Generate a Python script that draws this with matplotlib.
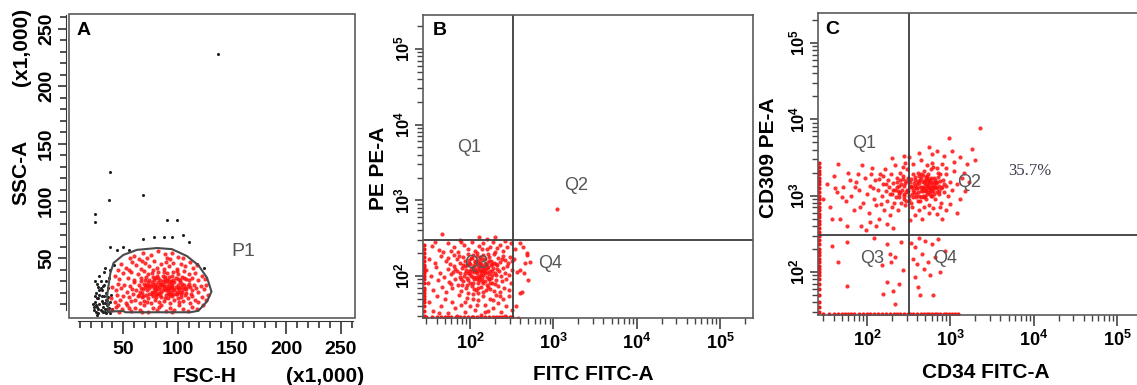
import numpy as np
import matplotlib.pyplot as plt
from matplotlib.patches import Polygon, Rectangle
from matplotlib.ticker import FixedLocator, LogLocator, NullFormatter

plt.rcParams['font.family'] = ['Liberation Sans', 'DejaVu Sans']
plt.rcParams['mathtext.fontset'] = 'custom'
plt.rcParams['mathtext.rm'] = 'Liberation Sans'
plt.rcParams['mathtext.bf'] = 'Liberation Sans:bold'

# ---------------- data ----------------
# panel A: FSC-H vs SSC-A (x1,000)
a_red = [(60,52),(68,55),(75,53),(82,56),(88,54),(95,55),(100,51),(72,50),(64,49),(90,50),(105,50),(56,50),
         (48,45),(52,42),(58,47),(62,44),(66,41),(70,46),(74,43),(78,48),(81,42),(85,45),(89,47),(92,43),(96,46),
         (99,41),(103,45),(107,43),(111,47),(114,42),(118,44),(55,40),(45,40),(87,41),(77,40),(67,48),(93,49),
         (42,35),(46,32),(50,37),(54,33),(57,38),(60,31),(63,36),(66,33),(69,39),(71,34),(74,31),(76,37),(79,33),
         (82,38),(84,31),(86,35),(88,32),(90,37),(92,34),(94,30),(96,38),(98,33),(100,36),(102,31),(104,34),
         (106,39),(108,32),(110,36),(113,33),(116,37),(119,31),(122,35),(125,32),(73,36),(81,35),(91,31),(99,39),
         (87,38),(77,34),(95,35),
         (40,25),(43,22),(45,28),(48,24),(51,27),(53,21),(56,26),(58,23),(60,29),(62,22),(64,27),(66,24),(67,20),
         (69,28),(70,25),(72,22),(73,29),(75,26),(76,21),(78,24),(79,28),(80,22),(81,26),(82,29),(83,23),(84,25),
         (85,21),(86,27),(87,24),(88,29),(89,22),(90,26),(91,20),(92,28),(93,24),(94,21),(95,27),(96,23),(97,29),
         (98,25),(99,21),(100,27),(101,23),(102,29),(103,25),(104,21),(106,27),(107,24),(108,20),(110,28),(111,25),
         (113,22),(115,27),(117,24),(119,21),(121,26),(124,23),(126,27),(74,24),(77,27),(83,20),(87,26),(91,24),
         (94,29),(97,22),(71,27),(65,21),(105,23),(109,26),(80,25),(85,28),(90,23),(95,25),(100,24),(78,21),
         (66,30),(68,23),(70,31),(72,26),(74,19),(76,29),(78,31),(80,19),(82,33),(84,28),(86,22),(88,34),(90,30),
         (92,22),(94,26),(96,31),(98,19),(100,32),(102,21),(104,28),(106,33),(108,23),(110,31),(112,19),(68,17),
         (74,27),(86,30),(93,18),(103,19),(79,23),
         (39,15),(42,12),(44,18),(47,14),(50,17),(52,11),(55,16),(57,13),(59,19),(61,14),(63,17),(65,11),(67,16),
         (69,13),(71,18),(73,15),(75,11),(77,17),(79,14),(81,19),(83,12),(85,16),(87,13),(89,18),(91,15),(93,11),
         (95,17),(97,14),(99,19),(101,12),(103,16),(105,13),(107,18),(109,15),(111,11),(113,17),(116,14),(119,12),
         (122,16),(126,14),(128,18),(76,19),(84,18),(92,19),(100,15),(80,16),(88,15),(96,19),(72,12),(64,18),
         (40,5),(43,8),(46,3),(49,6),(53,9),(57,4),(61,7),(65,5),(69,9),(73,3),(77,7),(81,5),(85,9),(89,4),(93,7),
         (97,5),(101,9),(105,6),(109,4),(113,8),(118,6),(123,9),(45,9),(55,7),(67,3),(83,8),(95,3)]
a_black = [(23,5),(24,12),(25,3),(25,20),(26,8),(26,15),(27,25),(27,2),(28,10),(28,18),(29,5),(29,30),(30,13),
           (30,22),(31,3),(31,8),(32,17),(32,27),(33,6),(33,11),(34,2),(34,20),(35,9),(35,14),(36,4),(36,24),
           (37,7),(37,33),(38,12),(38,2),(39,18),(40,6),(24,30),(28,35),(32,38),(22,10),(26,28),(30,4),(34,30),
           (36,16),(38,40),(41,44),(33,42),(29,24),(27,15),(31,11),(35,6),(25,9),(24,17),(27,6),(30,17),(33,3),
           (36,10),(28,22),(31,26),(34,14),(23,8),(26,1),
           (137,228),(38,125),(68,105),(37,101),(24,89),(24,82),(90,83),(99,83),(68,67),(78,69),(87,69),(95,69),
           (105,70),(110,64),(38,60),(44,57),(50,60),(55,57),(124,42),(118,45)]
p1_gate = [(36.5,3.7),(35,17),(38,37),(41,46),(50,53),(62.5,57.4),(81,59),(94.7,58),(108.4,52),(119,44),
           (127,33),(131,21),(127,12.5),(119,4.3),(111.5,3),(52,3),(50,4)]

# panel B: FITC FITC-A vs PE PE-A
b_pts = [(46,360),(76,300),(130,330),(159,310),(200,330),
         (35,250),(42,220),(55,270),(65,240),(72,210),(85,260),(95,230),(105,280),(115,215),(130,250),(145,270),
         (160,225),(175,245),(190,280),(210,235),(230,260),(250,215),(280,245),(310,270),(48,205),(78,285),
         (120,200),(200,205),(265,290),(140,230),(60,215),(38,280),
         (32,170),(38,150),(45,185),(52,160),(58,145),(64,190),(70,170),(76,150),(82,180),(88,160),(94,195),
         (100,145),(107,175),(114,155),(121,185),(128,165),(135,145),(143,190),(152,170),(160,150),(170,180),
         (180,160),(192,195),(205,145),(218,175),(232,155),(248,185),(265,165),(285,150),(305,180),(320,160),
         (110,190),(125,150),(140,170),(165,195),(98,165),(73,185),(55,175),(185,142),(240,170),
         (30,120),(34,100),(39,130),(44,110),(49,97),(54,125),(59,105),(65,135),(70,115),(75,98),(80,128),
         (86,108),(91,138),(96,118),(102,100),(108,130),(113,112),(119,96),(125,135),(131,120),(137,104),
         (144,128),(151,110),(158,98),(166,133),(174,117),(182,102),(191,126),(200,108),(212,138),(224,115),
         (236,100),(250,128),(264,110),(280,135),(296,104),(315,120),(105,115),(120,108),(130,100),(140,118),
         (150,125),(160,112),(115,125),(135,112),(90,120),(100,105),(170,105),(62,112),(210,122),(85,100),
         (155,138),(118,118),(128,128),(145,102),(112,140),(138,135),(95,110),
         (75,110),(82,140),(92,95),(98,150),(104,125),(110,98),(116,160),(122,115),(127,88),(133,150),(139,95),
         (146,115),(152,145),(162,128),(170,90),(178,140),(186,115),(196,150),(88,135),(78,92),(102,172),
         (132,178),(168,158),(144,82),(112,68),(126,60),(92,75),(180,95),(208,102),(66,125),
         (31,80),(36,65),(41,88),(46,72),(51,62),(56,84),(61,70),(67,92),(72,76),(78,64),(83,86),(89,70),
         (95,60),(100,82),(106,74),(112,90),(118,66),(124,80),(130,93),(137,72),(144,62),(151,86),(159,76),
         (167,91),(176,68),(185,82),(195,64),(206,88),(218,74),(230,62),(243,85),(257,70),(272,92),(290,66),
         (310,80),(110,80),(125,70),(140,85),(155,65),(175,80),(95,88),(80,75),(200,78),(120,92),(165,72),(60,78),
         (32,45),(36,35),(40,55),(45,40),(50,50),(55,32),(61,46),(67,38),(73,56),(79,42),(86,33),(93,52),
         (100,40),(108,58),(116,36),(125,48),(134,31),(143,54),(153,42),(164,35),(176,50),(189,38),(203,57),
         (218,44),(234,33),(252,50),(270,40),(292,55),(315,36),(42,32),(88,46),(120,42),(150,33),(190,48),
         (230,55),(70,30),(110,50),(260,30),
         (400,270),(480,190),(520,155),(370,114),(450,110),(420,62),(437,244),(480,200),(460,147),(500,88),
         (400,59),(400,120),(350,230),(360,40),(340,170),(380,28),(1100,770)]
# events piled on the axis floor
b_left_y = [30,35,40,45,50,55,60,65,70,80,90,100,110,120,130,140,160,180,200,230,260]
b_bottom_x = [30,35,40,45,50,55,60,68,75,85,95,105,110,120,135,150,170,190,205,220,240,270,300,320]

# panel C: CD34 FITC-A vs CD309 PE-A
c_pts = [(260,1400),(280,900),(300,1200),(310,1700),(320,1000),(330,1500),(340,800),(350,1300),(360,1900),
         (370,1100),(380,1600),(390,950),(400,1250),(410,2000),(420,1450),(430,850),(440,1150),(450,1700),
         (460,1300),(470,1000),(480,1550),(490,2100),(500,1200),(510,900),(520,1400),(530,1800),(540,1100),
         (550,1300),(560,750),(570,1600),(580,1000),(590,2200),(600,1350),(620,1150),(640,1700),(660,900),
         (680,1450),(700,1250),(720,2000),(740,1050),(760,1550),(780,800),(800,1300),(250,1100),(270,1650),
         (290,750),(305,2200),(325,1300),(345,1050),(365,1450),(385,1250),(405,850),(425,1800),(445,950),
         (465,1500),(485,1250),(505,1650),(525,1050),(545,1900),(565,1200),(585,1450),(605,1000),(625,2400),
         (645,1250),(665,1600),(690,1100),(710,1750),(730,1350),(750,700),(820,1600),(850,1100),(880,1900),
         (900,1350),(950,1000),(1000,1500),(1050,1200),(1100,2100),(1200,1400),(1300,900),(1400,1700),
         (1500,1150),(230,1300),(240,950),(270,2400),(290,2700),(360,2600),(440,2900),(520,2500),(600,2700),
         (700,2300),(800,2600),(900,2300),(1100,2800),(350,700),(420,650),(480,720),(550,600),(620,680),
         (700,580),(800,500),(900,650),(380,560),(460,500),(330,480),(1200,600),(1000,780),
         (315,1150),(335,1350),(355,950),(375,1750),(395,1400),(415,1100),(435,1600),(455,1250),(475,1850),
         (495,1450),(515,1150),(535,1350),(555,1650),(575,1250),(595,1150),(615,1500),(635,1350),(500,1000),
         (275,1050),(295,1550),(318,880),(342,1650),(362,1200),(388,1050),(408,1550),(428,1300),(448,1900),
         (468,1150),(492,1350),(512,1750),(532,1250),(552,1450),(572,1050),(592,1700),(612,1250),(632,1050),
         (652,1450),(675,1300),(700,1500),(725,1150),(750,1900),(780,1250),(830,1400),(480,950),(420,1000),
         (560,1550),(380,1350),(520,1600),
         (30,900),(33,1400),(36,700),(40,1800),(44,1100),(48,500),(52,1300),(56,850),(60,2000),(65,1000),
         (70,650),(75,1500),(80,1200),(85,400),(90,800),(95,1700),(100,1050),(105,600),(110,1350),(115,2300),
         (120,900),(125,1600),(130,750),(135,1200),(140,500),(145,1900),(150,1000),(155,1400),(160,650),
         (165,2200),(170,1150),(175,850),(180,1600),(185,1300),(190,550),(195,1900),(200,1050),(205,1450),
         (210,800),(215,2500),(220,1200),(225,950),(230,1700),(235,650),(240,1350),(245,1050),(250,2000),
         (255,800),(265,1200),(275,1000),(285,1450),(295,850),(45,2600),(62,1600),(88,2500),(108,450),
         (128,400),(175,420),(205,380),(112,1900),(72,1300),(38,500),(50,950),(82,700),(118,1250),(148,780),
         (188,1050),(228,1500),(268,1800),(98,350),(158,1800),(198,700),(238,1150),(42,1250),(57,400),
         (78,1900),(138,1650),(168,1400),(208,1200),(248,1600),(276,1350),(298,1100),
         (2250,7700),(970,5700),(550,4300),(1820,4100),(276,3300),(700,3800),(1300,3200),(420,3600),
         (1600,2600),(850,3300),(200,3100),(320,3200),(1050,3900),(600,3500),(1450,2000),(1700,1500),(2000,2900),
         (38,222),(57,245),(45,134),(57,66),(172,234),(189,173),(195,135),(216,156),(150,122),(172,73),(207,57),
         (157,52),(272,105),(240,70),(216,38),(120,280),(260,250),
         (377,211),(454,172),(395,128),(545,134),(377,85),(413,63),(570,90),(750,100),(620,50),(430,50),
         (650,156),(500,258),(860,190),(340,240),(420,280),(600,230),(720,270),(360,150),(480,110)]
c_left_y = [30,35,40,50,60,70,80,90,100,110,120,135,150,165,180,200,230,260,300,330,380,420,470,520,580,650,
            720,800,900,1000,1100,1250,1400,1550,1700,1900,2100,2400,2700]
c_bottom_x = [30,35,40,45,50,55,60,65,70,80,90,100,110,120,135,150,170,190,210,230,250,280,310,330,360,400,
              440,480,520,560,610,650,700,760,830,900,970,1050,1150,1250]

# ---------------- figure ----------------
W, H = 1137, 385
fig = plt.figure(figsize=(W / 100, H / 100), dpi=100)

def px_box(left, top, right, bottom):
    return [left / W, 1 - bottom / H, (right - left) / W, (bottom - top) / H]

frame_c = '#5a5a5a'
line_c = '#3c3c3c'
red = '#ff1010'
gray_txt = '#555555'
dot = 9

# ---- panel A ----
axA = fig.add_axes(px_box(69, 14, 355, 318))
axA.set_xlim(0, 263)
axA.set_ylim(-2, 263)
ax_, ay_ = zip(*a_black)
axA.scatter(ax_, ay_, s=5, c='#222222', linewidths=0)
rx, ry = zip(*a_red)
axA.scatter(rx, ry, s=dot, c=red, linewidths=0, alpha=0.85)
axA.add_patch(Polygon(p1_gate, closed=True, fill=False, ec='#4a4a4a', lw=1.5))
axA.add_patch(Rectangle((0, 0), 1, 1, transform=axA.transAxes, fill=False, ec=frame_c, lw=1.2,
                        clip_on=False))
for s in ['top', 'right']:
    axA.spines[s].set_visible(False)
for s in ['left', 'bottom']:
    axA.spines[s].set_position(('outward', 2.5))
    axA.spines[s].set_color('#333333')
axA.spines['bottom'].set_bounds(8, 261)
axA.spines['left'].set_bounds(5, 262)
majA = [50, 100, 150, 200, 250]
minA = [v for v in range(10, 261, 10) if v % 50]
axA.xaxis.set_major_locator(FixedLocator(majA))
axA.xaxis.set_minor_locator(FixedLocator(minA))
axA.yaxis.set_major_locator(FixedLocator(majA))
axA.yaxis.set_minor_locator(FixedLocator(minA))
axA.set_xticklabels([str(v) for v in majA])
axA.set_yticklabels([str(v) for v in majA])
axA.tick_params(axis='x', which='major', length=9, width=1.2, color='#333333', labelsize=14, pad=5)
axA.tick_params(axis='x', which='minor', length=5, width=1.2, color='#333333')
axA.tick_params(axis='y', which='major', length=6, width=1.2, color='#333333', labelsize=14, pad=1.5)
axA.tick_params(axis='y', which='minor', length=4, width=1.2, color='#333333')
for t in axA.get_xticklabels() + axA.get_yticklabels():
    t.set_fontweight('bold')
plt.setp(axA.get_yticklabels(), rotation=90, va='center')
axA.text(160, 56, 'P1', fontsize=14, color=gray_txt, ha='center', va='center')
axA.text(0.05, 0.945, 'A', transform=axA.transAxes, fontsize=14, fontweight='bold', ha='center', va='center')

# ---- log panels ----
def log_panel(box, xlim, ylim, pts, left_y, bottom_x, gx, gy):
    ax = fig.add_axes(box)
    ax.set_xscale('log')
    ax.set_yscale('log')
    ax.set_xlim(*xlim)
    ax.set_ylim(*ylim)
    px_, py_ = zip(*pts)
    ax.scatter(px_, py_, s=dot, c=red, linewidths=0, alpha=0.85)
    ax.scatter([xlim[0] * 1.03] * len(left_y), left_y, s=dot, c=red, linewidths=0)
    ax.scatter(bottom_x, [ylim[0] * 1.03] * len(bottom_x), s=dot, c=red, linewidths=0)
    ax.axvline(gx, color=line_c, lw=1.3)
    ax.axhline(gy, color=line_c, lw=1.3)
    for s in ax.spines.values():
        s.set_color(frame_c)
        s.set_linewidth(1.2)
    dec = [1e2, 1e3, 1e4, 1e5]
    labs = [r'$\mathbf{10^{2}}$', r'$\mathbf{10^{3}}$', r'$\mathbf{10^{4}}$', r'$\mathbf{10^{5}}$']
    for axis in (ax.xaxis, ax.yaxis):
        axis.set_major_locator(FixedLocator(dec))
        axis.set_minor_locator(LogLocator(base=10, subs=np.arange(2, 10), numticks=20))
        axis.set_minor_formatter(NullFormatter())
    ax.set_xticklabels(labs)
    ax.set_yticklabels(labs)
    ax.tick_params(axis='x', which='major', length=8, width=1.2, color='#444444', labelsize=13, pad=3)
    ax.tick_params(axis='y', which='major', length=6, width=1.2, color='#444444', labelsize=12, pad=1.5)
    ax.tick_params(which='minor', length=4.5, width=1.0, color='#444444')
    plt.setp(ax.get_yticklabels(), rotation=90, va='center')
    return ax

axB = log_panel(px_box(423, 15, 753, 318), (27.3, 2.49e5), (27.9, 2.8e5), b_pts, b_left_y, b_bottom_x,
                330, 300)
axB.text(0.0515, 0.95, 'B', transform=axB.transAxes, fontsize=14, fontweight='bold', ha='center', va='center')
for lab, x, y in [('Q1', 97, 5000), ('Q2', 1860, 1590), ('Q3', 120, 147), ('Q4', 910, 147)]:
    axB.text(x, y, lab, fontsize=13, color=gray_txt, ha='center', va='center')

axC = log_panel(px_box(818, 13, 1140, 315), (25.9, 1.89e5), (27.3, 2.47e5), c_pts, c_left_y, c_bottom_x,
                318, 307)
axC.text(0.043, 0.944, 'C', transform=axC.transAxes, fontsize=14, fontweight='bold', ha='center', va='center')
for lab, x, y in [('Q1', 93, 4750), ('Q2', 1690, 1490), ('Q3', 115, 151), ('Q4', 860, 151)]:
    axC.text(x, y, lab, fontsize=13, color=gray_txt, ha='center', va='center')
axC.text(8900, 2130, '35.7%', fontsize=12, color='#3a3a4a', ha='center', va='center',
         family=['Liberation Serif', 'DejaVu Serif'])

# ---- axis titles ----
def ftxt(x, y, s, rot=0):
    fig.text(x / W, 1 - y / H, s, fontsize=15, fontweight='bold', rotation=rot, ha='center', va='center')

ftxt(21, 172, 'SSC-A', 90)
ftxt(21, 47, '(x1,000)', 90)
ftxt(205, 376, 'FSC-H')
ftxt(325, 376, '(x1,000)')
ftxt(379, 168, 'PE PE-A', 90)
ftxt(593, 375, 'FITC FITC-A')
ftxt(768, 158, 'CD309 PE-A', 90)
ftxt(986, 372, 'CD34 FITC-A')

fig.savefig('out.png', dpi=100)
